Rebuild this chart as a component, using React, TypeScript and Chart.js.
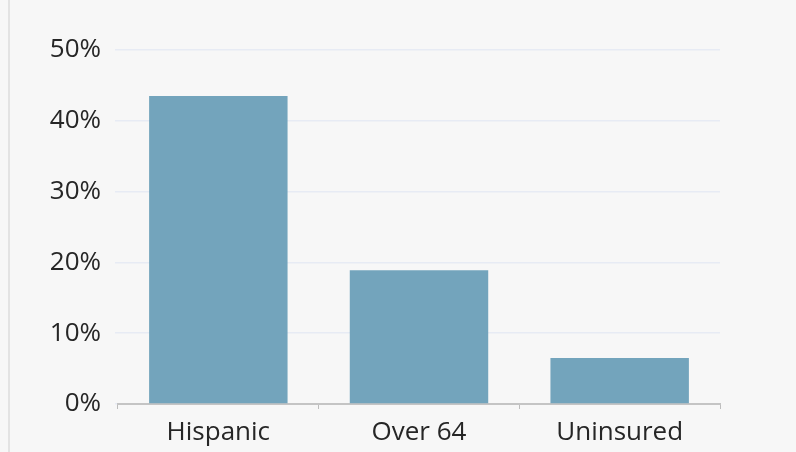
import React, { useEffect, useRef } from "react";
import { Chart, registerables } from "chart.js";

Chart.register(...registerables);

const categories = ["Hispanic", "Over 64", "Uninsured"];
const values = [43.5, 18.9, 6.5];
const yTicks = [0, 10, 20, 30, 40, 50];

export default function App() {
  const ref = useRef<HTMLCanvasElement | null>(null);
  useEffect(() => {
    if (!ref.current) return;
    const font = { family: "'Open Sans', 'Noto Sans', sans-serif", size: 26 };
    const chart = new Chart(ref.current, {
      type: "bar",
      data: {
        labels: categories,
        datasets: [
          {
            data: values,
            backgroundColor: "#73a4bc",
            borderWidth: 0,
            barPercentage: 0.69,
            categoryPercentage: 1,
          },
        ],
      },
      options: {
        animation: false,
        responsive: false,
        maintainAspectRatio: false,
        layout: { padding: { top: 50, right: 76, left: 0, bottom: 0 } },
        plugins: { legend: { display: false }, tooltip: { enabled: false } },
        scales: {
          x: {
            afterFit: (s: any) => {
              s.height = 48;
            },
            grid: {
              display: true,
              drawOnChartArea: false,
              drawTicks: true,
              tickLength: 5,
              color: "#bdbdbd",
              lineWidth: 1,
            },
            border: { display: true, color: "#c4c4c4", width: 2 },
            ticks: { color: "#262626", font, padding: 8 },
          },
          y: {
            min: 0,
            max: 50,
            afterFit: (s: any) => {
              s.width = 118;
            },
            afterBuildTicks: (s: any) => {
              s.ticks = yTicks.map((v) => ({ value: v }));
            },
            grid: {
              color: "#e7ebf4",
              lineWidth: 1.5,
              drawTicks: true,
              tickLength: 3,
            },
            border: { display: false },
            ticks: {
              color: "#262626",
              font,
              padding: 14,
              callback: (v: any) => v + "%",
            },
          },
        },
      },
    });
    return () => chart.destroy();
  }, []);
  return (
    <div
      style={{
        position: "fixed",
        left: 0,
        top: 0,
        width: 796,
        height: 452,
        background: "#f7f7f7",
      }}
    >
      <div
        style={{
          position: "absolute",
          left: 8,
          top: 0,
          width: 2,
          height: 452,
          background: "#e3e3e3",
        }}
      />
      <canvas
        ref={ref}
        width={796}
        height={452}
        style={{ position: "absolute", left: 0, top: 0, width: 796, height: 452 }}
      />
    </div>
  );
}
